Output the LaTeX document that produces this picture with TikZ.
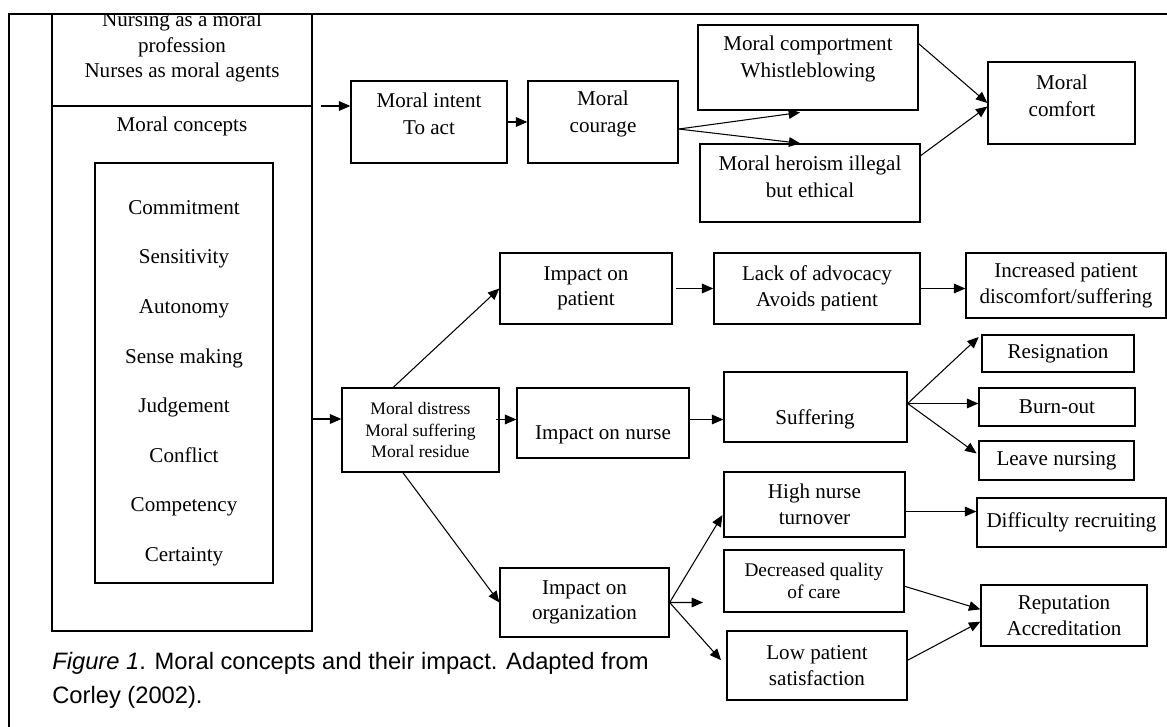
\documentclass[tikz,border=0pt]{standalone}
\usepackage{fontspec}
\setmainfont{Liberation Serif}
\newfontfamily\capfont{Liberation Sans}
\usetikzlibrary{arrows.meta, fit}

\tikzset{
  box/.style={draw, line width=0.75pt, inner sep=0pt},
  txt/.style={inner sep=0pt, align=center, font=\fontsize{12}{14.5}\selectfont},
  wide/.style={font=\fontsize{12}{15.3}\selectfont},
  small/.style={font=\fontsize{10}{12}\selectfont},
  mid/.style={font=\fontsize{11}{12.5}\selectfont},
  arr/.style={-{Triangle[length=6.5pt, width=5.5pt]}, line width=0.6pt},
  figcap/.style={inner sep=0pt, anchor=west, font=\capfont\fontsize{13.5}{16}\selectfont},
}

\begin{document}
\begin{tikzpicture}[x=0.02cm, y=-0.02cm]
  \useasboundingbox (0,0) rectangle (1167,727);
  % frame
  \draw [line width=1pt] (9,727) -- (9,14) -- (1167,14);

  % left column
  \node [box, fit={(52,14) (312,631)}] (left) {};
  \draw [line width=0.75pt] (52,106) -- (312,106);
  \begin{scope}
    \clip (52,14) rectangle (312,106);
    \node [txt] (head) at (182,47) {Nursing as a moral\\profession\\Nurses as moral agents};
  \end{scope}
  \node [txt] (concepts) at (182,126) {Moral concepts};
  \node [box, fit={(95,163) (273,583)}] (list) {};
  \foreach \c [count=\i] in {Commitment, Sensitivity, Autonomy, Sense making, Judgement, Conflict, Competency, Certainty}
    \node [txt, text height=8.5pt, text depth=2.5pt] (c\i) at (184, {159.4+49.6*\i}) {\c};

  % top row
  \node [box, fit={(351,81) (507,163)}] (intent) {};
  \node [txt, wide] (intent-t) at (429,114) {Moral intent\\To act};
  \node [box, fit={(528,81) (678,163)}] (courage) {};
  \node [txt, wide] (courage-t) at (603,114) {Moral\\courage};
  \node [box, fit={(698,25) (918,110)}] (comport) {};
  \node [txt, wide] (comport-t) at (808,59) {Moral comportment\\Whistleblowing};
  \node [box, fit={(700,144) (920,222)}] (heroism) {};
  \node [txt, wide] (heroism-t) at (810,177) {Moral heroism illegal\\but ethical};
  \node [box, fit={(988,62) (1135,144)}] (comfort) {};
  \node [txt, wide] (comfort-t) at (1062,96) {Moral\\comfort};

  % middle
  \node [box, fit={(342,388) (499,472)}, label={[txt, small]center:Moral distress\\Moral suffering\\Moral residue}] (distress) {};
  \node [box, fit={(500,253) (672,324)}, label={[txt]center:Impact on\\patient}] (patient) {};
  \node [box, fit={(714,253) (920,324)}, label={[txt]center:Lack of advocacy\\Avoids patient}] (lack) {};
  \node [box, fit={(966,253) (1166,318)}, label={[txt]center:Increased patient\\discomfort/suffering}] (incr) {};
  \node [box, fit={(517,388) (689,458)}] (nurse) {};
  \node [txt] (nurse-t) at (603,435) {Impact on nurse};
  \node [box, fit={(724,372) (907,442)}] (suffer) {};
  \node [txt] (suffer-t) at (815,419) {Suffering};
  \node [box, fit={(982,335) (1134,372)}, label={[txt]center:Resignation}] (resig) {};
  \node [box, fit={(979,388) (1135,426)}, label={[txt]center:Burn-out}] (burn) {};
  \node [box, fit={(979,441) (1134,480)}, label={[txt]center:Leave nursing}] (leave) {};

  % bottom
  \node [box, fit={(500,568) (669,637)}, label={[txt]center:Impact on\\organization}] (org) {};
  \node [box, fit={(724,472) (905,537)}, label={[txt]center:High nurse\\turnover}] (high) {};
  \node [box, fit={(977,498) (1166,547)}, label={[txt]center:Difficulty recruiting}] (diff) {};
  \node [box, fit={(724,550) (904,612)}, label={[txt, mid]center:Decreased quality\\of care}] (decr) {};
  \node [box, fit={(727,631) (907,700)}, label={[txt]center:Low patient\\satisfaction}] (low) {};
  \node [box, fit={(981,585) (1147,646)}, label={[txt]center:Reputation\\Accreditation}] (rep) {};

  % caption
  \node [figcap] (cap1) at (52,663) {\textit{Figure 1}. Moral concepts and their impact. Adapted from};
  \node [figcap] (cap2) at (52,697) {Corley (2002).};

  % top row arrows
  \coordinate (in1) at (321,106);
  \draw [arr] (in1) -- (in1 -| intent.west);
  \draw [arr] (intent) -- (courage);
  \coordinate (fan1) at ([yshift=-4pt]courage.east);
  \draw [arr] (fan1) -- ([xshift=-4.5pt, yshift=-1pt]comport.south);
  \draw [arr] (fan1) -- ([xshift=-5.5pt]heroism.north);
  \draw [arr] ([yshift=-11pt]comport.north east) -- (comfort.west);
  \draw [arr] ([yshift=-7pt]heroism.north east) -- ([yshift=-2pt]comfort.west);

  % middle arrows
  \coordinate (in2) at (313,419);
  \draw [arr] (in2) -- (in2 -| distress.west);
  \draw [arr] ([xshift=-15.5pt]distress.north) -- (patient.west);
  \draw [arr] ([xshift=-2pt, yshift=6pt]distress.east) -- ([yshift=6pt]distress.east -| nurse.west);
  \draw [arr] ([xshift=-10pt]distress.south) -- (org.west);
  \draw [arr] ([xshift=2pt]patient.east) -- (lack.west);
  \draw [arr] (lack.east) -- (lack.east -| incr.west);
  \draw [arr] ([yshift=2pt]nurse.east) -- ([yshift=2pt]nurse.east -| suffer.west);
  \coordinate (fan2) at ([yshift=2pt]suffer.east);
  \draw [arr] (fan2) -- ([xshift=-1.5pt, yshift=-1.5pt]resig.north west);
  \draw [arr] (fan2) -- (fan2 -| burn.west);
  \draw [arr] (fan2) -- ([xshift=-1pt, yshift=4pt]leave.west);

  % bottom arrows
  \coordinate (stub) at (703,602.5);
  \draw [arr] (org.east) -- ([xshift=-0.5pt, yshift=-6pt]high.west);
  \draw [arr] (org.east) -- (stub);
  \draw [arr] (org.east) -- ([xshift=-3pt, yshift=3pt]low.west);
  \draw [arr] ([yshift=-4pt]high.east) -- ([yshift=-4pt]high.east -| diff.west);
  \draw [arr] ([yshift=-3pt]decr.east) -- ([yshift=3.5pt]rep.west);
  \draw [arr] ([yshift=3pt]low.east) -- ([yshift=-3.5pt]rep.west);
\end{tikzpicture}
\end{document}
